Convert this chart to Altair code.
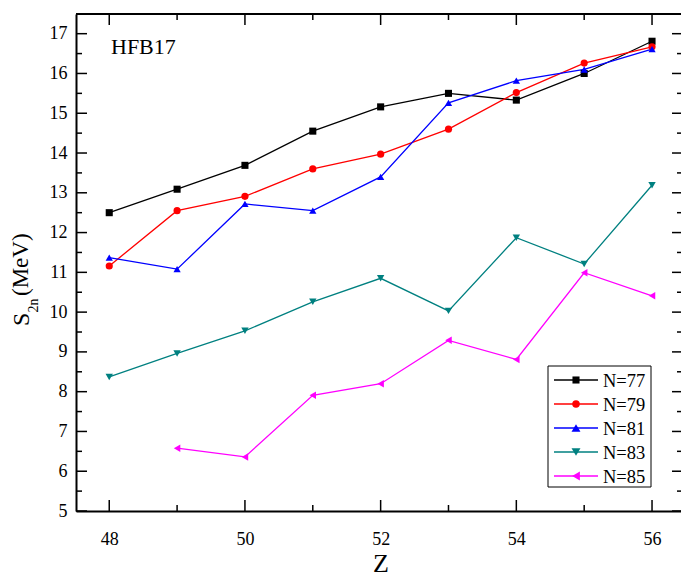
import altair as alt
import pandas as pd

# Two-neutron separation energies (MeV) from HFB17, by proton number Z
z_values = [48, 49, 50, 51, 52, 53, 54, 55, 56]
s2n_n77 = [12.50, 13.09, 13.69, 14.55, 15.16, 15.50, 15.33, 16.00, 16.81]
s2n_n79 = [11.16, 12.55, 12.91, 13.60, 13.97, 14.60, 15.52, 16.26, 16.67]
s2n_n81 = [11.37, 11.08, 12.72, 12.55, 13.40, 15.26, 15.82, 16.10, 16.61]
s2n_n83 = [8.37, 8.96, 9.53, 10.26, 10.85, 10.03, 11.87, 11.21, 13.19]
s2n_n85 = [None, 6.58, 6.36, 7.91, 8.20, 9.29, 8.81, 10.99, 10.41]

series_labels = ["N=77", "N=79", "N=81", "N=83", "N=85"]
series_colors = ["#000000", "#ff0000", "#0000ff", "#008080", "#ff00ff"]
series_shapes = ["square", "circle", "triangle-up", "triangle-down", "triangle-left"]
marker_sizes = [50, 56, 80, 80, 80]

# Tick positions
x_major = [48, 50, 52, 54, 56]
x_minor = [49, 51, 53, 55]
y_major = [5, 6, 7, 8, 9, 10, 11, 12, 13, 14, 15, 16, 17]
y_minor = [5.5, 6.5, 7.5, 8.5, 9.5, 10.5, 11.5, 12.5, 13.5, 14.5, 15.5, 16.5]

FONT = "'Liberation Serif', 'Times New Roman', 'DejaVu Serif', serif"
W, H = 605, 497

rows = []
for label, vals in zip(series_labels, [s2n_n77, s2n_n79, s2n_n81, s2n_n83, s2n_n85]):
    for zz, v in zip(z_values, vals):
        if v is not None:
            rows.append({"Z": zz, "S2n": v, "series": label})
df = pd.DataFrame(rows)

xscale = alt.Scale(domain=[47.51, 56.427], zero=False, nice=False)
yscale = alt.Scale(domain=[5, 17.495], zero=False, nice=False)

xaxis = alt.Axis(values=x_major, ticks=False, tickSize=0, labelPadding=19, grid=False,
                 title=None, domainColor="black", domainWidth=2, labelFont=FONT,
                 labelFontSize=18, labelColor="black", labelFlush=False, labelOverlap=False,
                 format="d")
yaxis = alt.Axis(values=y_major, ticks=False, tickSize=0, labelPadding=9, grid=False,
                 title=None, domainColor="black", domainWidth=2, labelFont=FONT,
                 labelFontSize=18, labelColor="black", labelFlush=False, labelOverlap=False,
                 format="d")

color_scale = alt.Scale(domain=series_labels, range=series_colors)
shape_scale = alt.Scale(domain=series_labels, range=series_shapes)
size_scale = alt.Scale(domain=series_labels, range=marker_sizes)

X = alt.X("Z:Q", scale=xscale, axis=xaxis)
Y = alt.Y("S2n:Q", scale=yscale, axis=yaxis)

lines = alt.Chart(df).mark_line(strokeWidth=1.3).encode(
    x=X, y=Y,
    color=alt.Color("series:N", scale=color_scale, legend=None),
    detail="series:N",
)
points = alt.Chart(df).mark_point(filled=True, opacity=1).encode(
    x=X, y=Y,
    color=alt.Color("series:N", scale=color_scale, legend=None),
    shape=alt.Shape("series:N", scale=shape_scale, legend=None),
    size=alt.Size("series:N", scale=size_scale, legend=None),
)

# Inward-pointing ticks on all four sides
def xticks(vals, length):
    d = pd.DataFrame({"Z": vals})
    bottom = alt.Chart(d).mark_rule(color="black", strokeWidth=1.5).encode(
        x=X, y=alt.value(H), y2=alt.value(H - length))
    top = alt.Chart(d).mark_rule(color="black", strokeWidth=1.5).encode(
        x=X, y=alt.value(0), y2=alt.value(length))
    return [bottom, top]

def yticks(vals, length):
    d = pd.DataFrame({"S2n": vals})
    left = alt.Chart(d).mark_rule(color="black", strokeWidth=1.5).encode(
        y=Y, x=alt.value(0), x2=alt.value(length))
    right = alt.Chart(d).mark_rule(color="black", strokeWidth=1.5).encode(
        y=Y, x=alt.value(W + 2), x2=alt.value(W + 2 - length))
    return [left, right]

tick_layers = xticks(x_major, 11) + xticks(x_minor, 6) + yticks(y_major, 11) + yticks(y_minor, 6)

one = pd.DataFrame({"k": [0]})
top_frame = alt.Chart(one).mark_rule(color="black", strokeWidth=2).encode(
    x=alt.value(0), x2=alt.value(W), y=alt.value(0))

# Annotations and axis titles
label_hfb = alt.Chart(one).mark_text(text="HFB17", font=FONT, fontSize=22, align="left",
                                     baseline="alphabetic", color="black").encode(
    x=alt.value(35), y=alt.value(40))
title_z = alt.Chart(one).mark_text(text="Z", font=FONT, fontSize=26, align="center",
                                   baseline="alphabetic", color="black").encode(
    x=alt.value(305), y=alt.value(558))
title_s = alt.Chart(one).mark_text(text="S", font=FONT, fontSize=24, align="left", angle=270,
                                   baseline="alphabetic", color="black").encode(
    x=alt.value(-47.5), y=alt.value(312))
title_sub = alt.Chart(one).mark_text(text="2n", font=FONT, fontSize=14, align="left", angle=270,
                                     baseline="alphabetic", color="black").encode(
    x=alt.value(-38), y=alt.value(298.5))
title_unit = alt.Chart(one).mark_text(text="(MeV)", font=FONT, fontSize=23, align="left", angle=270,
                                      baseline="alphabetic", color="black").encode(
    x=alt.value(-48), y=alt.value(282))

# Legend box with line-and-marker samples
legend_layers = [
    alt.Chart(one).mark_rect(fill="white", stroke="black", strokeWidth=1).encode(
        x=alt.value(472), x2=alt.value(575), y=alt.value(352), y2=alt.value(473))
]
for i, (label, col, shp, sz) in enumerate(zip(series_labels, series_colors, series_shapes, marker_sizes)):
    ly = 366 + 24 * i
    legend_layers.append(alt.Chart(one).mark_rule(color=col, strokeWidth=1.3).encode(
        x=alt.value(478), x2=alt.value(522), y=alt.value(ly)))
    legend_layers.append(alt.Chart(one).mark_point(filled=True, opacity=1, size=sz, color=col,
                                                   shape=shp).encode(
        x=alt.value(500), y=alt.value(ly)))
    legend_layers.append(alt.Chart(one).mark_text(text=label, font=FONT, fontSize=18.5,
                                                  align="left", baseline="middle",
                                                  color="black").encode(
        x=alt.value(527), y=alt.value(ly + 1)))

chart = alt.layer(
    lines, points, *tick_layers, top_frame, label_hfb, title_z, title_s, title_sub,
    title_unit, *legend_layers
).properties(
    width=W, height=H,
    autosize=alt.AutoSizeParams(type="none"),
    padding={"left": 76, "top": 14, "right": 0, "bottom": 66},
    background="white",
).configure_view(stroke="transparent")

chart.save("out.html", embed_options={"renderer": "svg", "actions": False})
